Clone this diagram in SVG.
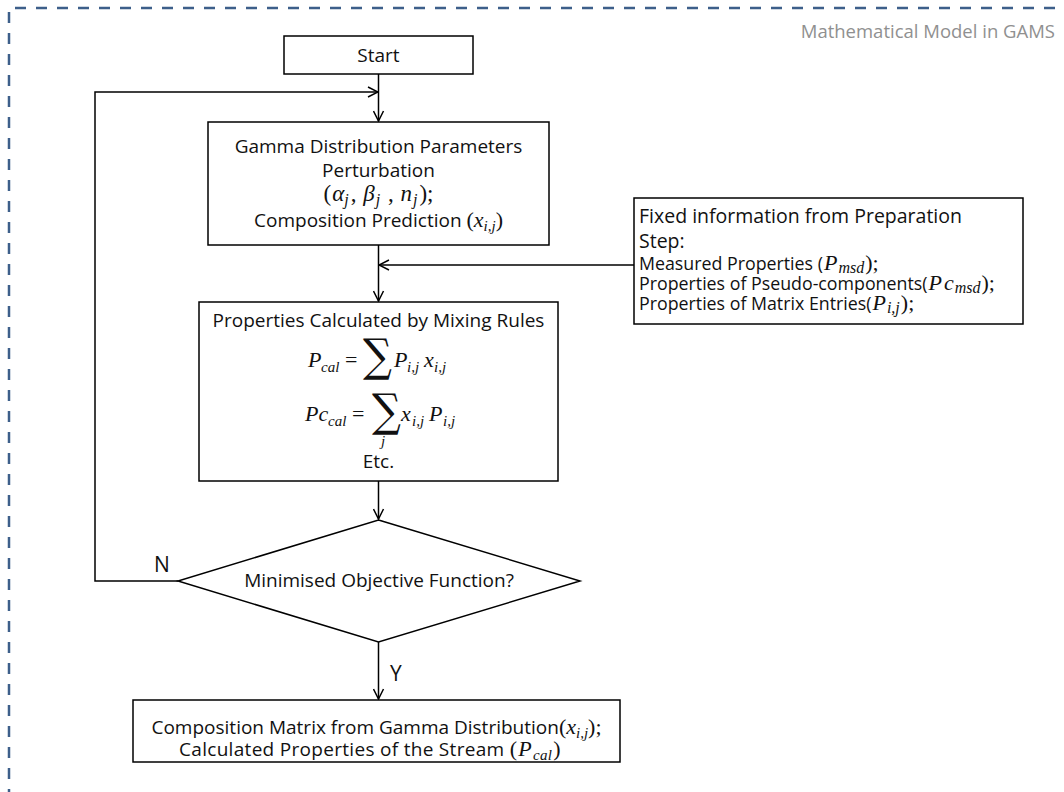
<svg xmlns="http://www.w3.org/2000/svg" width="1064" height="792" viewBox="0 0 1064 792">
  <defs>
    <style>
      .box { fill: #ffffff; stroke: #000000; stroke-width: 1.5; }
      .edge { fill: none; stroke: #000000; stroke-width: 1.5; }
      .frame { fill: none; stroke: #3d5f8a; stroke-width: 2.5; stroke-dasharray: 11 10; }
      .t { font-family: "Open Sans", "Liberation Sans", sans-serif; font-size: 19px; fill: #111111; }
      .tl { font-family: "Open Sans", "Liberation Sans", sans-serif; font-size: 19.5px; fill: #111111; }
      .ts { font-family: "Open Sans", "Liberation Sans", sans-serif; font-size: 17.8px; fill: #111111; }
      .title { font-family: "Open Sans", "Liberation Sans", sans-serif; font-size: 18.5px; fill: #909090; }
      .lbl { font-family: "Open Sans", "Liberation Sans", sans-serif; font-size: 21px; fill: #111111; }
      .m { font-family: "Liberation Serif", "DejaVu Serif", serif; font-style: italic; fill: #111111; }
      .mu { font-family: "Liberation Serif", "DejaVu Serif", serif; font-style: normal; fill: #111111; }
      .big { font-size: 22px; }
      .sub { font-size: 15px; }
      .fm { font-size: 22px; }
      .fs { font-size: 16px; }
      .sig { font-family: "DejaVu Serif", "Liberation Serif", serif; font-style: normal; font-size: 45px; fill: #111111; }
    </style>
    <marker id="arrow" viewBox="0 0 12 12" refX="11" refY="6" markerWidth="12" markerHeight="12" markerUnits="userSpaceOnUse" orient="auto">
      <path d="M1 1 L11 6 L1 11" fill="none" stroke="#000000" stroke-width="1.5"/>
    </marker>
  </defs>

  <rect width="1064" height="792" fill="#ffffff"/>

  <!-- dashed frame of the model region -->
  <path class="frame" d="M9 800 V8 H1070"/>
  <text class="title" x="1055" y="38" text-anchor="end">Mathematical Model in GAMS</text>

  <!-- connectors -->
  <g id="connectors">
    <path class="edge" d="M378.5 74 V121" marker-end="url(#arrow)"/>
    <path class="edge" d="M178 581 H95 V92 H378" marker-end="url(#arrow)"/>
    <path class="edge" d="M378.5 245 V301" marker-end="url(#arrow)"/>
    <path class="edge" d="M634 265 H379" marker-end="url(#arrow)"/>
    <path class="edge" d="M378.5 481 V519" marker-end="url(#arrow)"/>
    <path class="edge" d="M378.5 642 V699" marker-end="url(#arrow)"/>
    <text class="lbl" x="154" y="572">N</text>
    <text class="lbl" x="390" y="681">Y</text>
  </g>

  <g id="start">
    <rect class="box" x="284" y="36" width="189" height="38"/>
    <text class="t" x="378.5" y="62" text-anchor="middle">Start</text>
  </g>

  <g id="perturbation">
    <rect class="box" x="208" y="122" width="341" height="123"/>
    <text class="t" x="378.5" y="153" text-anchor="middle">Gamma Distribution Parameters</text>
    <text class="t" x="378.5" y="177" text-anchor="middle">Perturbation</text>
    <text class="t" x="378.5" y="201" text-anchor="middle"><tspan class="mu" font-size="23">(</tspan><tspan class="m" font-size="23" dx="1">α</tspan><tspan class="m" font-size="16" dy="4">j</tspan><tspan class="mu" font-size="23" dy="-4" dx="2">, </tspan><tspan class="m" font-size="23" dx="1">β</tspan><tspan class="m" font-size="16" dy="4" dx="1">j</tspan><tspan class="mu" font-size="23" dy="-4" dx="2"> , </tspan><tspan class="m" font-size="23" dx="1">n</tspan><tspan class="m" font-size="16" dy="4" dx="1">j</tspan><tspan class="mu" font-size="23" dy="-4" dx="2">);</tspan></text>
    <text class="t" x="378.5" y="227" text-anchor="middle">Composition Prediction <tspan class="mu big">(</tspan><tspan class="m big">x</tspan><tspan class="m sub" dy="4">i,j</tspan><tspan class="mu big" dy="-4">)</tspan></text>
  </g>

  <g id="fixed-info">
    <rect class="box" x="634" y="198" width="389" height="126"/>
    <text class="tl" x="639" y="223">Fixed information from Preparation</text>
    <text class="tl" x="639" y="248">Step:</text>
    <text class="ts" x="639" y="270">Measured Properties (<tspan class="m fm" dx="1">P</tspan><tspan class="m fs" dy="3" dx="1">msd</tspan><tspan class="mu fm" dy="-3" dx="1">);</tspan></text>
    <text class="ts" x="639" y="290">Properties of Pseudo-components(<tspan class="m fm" dx="1">P</tspan><tspan class="m fm" dx="2">c</tspan><tspan class="m fs" dy="3" dx="1">msd</tspan><tspan class="mu fm" dy="-3" dx="1">);</tspan></text>
    <text class="ts" x="639" y="310">Properties of Matrix Entries(<tspan class="m fm" dx="1">P</tspan><tspan class="m fs" dy="3" dx="1">i,j</tspan><tspan class="mu fm" dy="-3" dx="1">);</tspan></text>
  </g>

  <g id="mixing-rules">
    <rect class="box" x="199" y="302" width="359" height="179"/>
    <text class="t" x="378.5" y="327" text-anchor="middle">Properties Calculated by Mixing Rules</text>
    <!-- P_cal = sum P_ij x_ij -->
    <text class="m big" x="308" y="367">P</text>
    <text class="m sub" x="321" y="372">cal</text>
    <text class="mu big" x="345" y="367">=</text>
    <text class="sig" x="363" y="371" transform="translate(363 0) scale(0.9 1) translate(-363 0)">∑</text>
    <text class="m big" x="394" y="367">P</text>
    <text class="m sub" x="407" y="372">i,j</text>
    <text class="m big" x="424" y="367">x</text>
    <text class="m sub" x="434" y="372">i,j</text>
    <!-- Pc_cal = sum_j x_ij P_ij -->
    <text class="m big" x="305" y="421">Pc</text>
    <text class="m sub" x="328" y="426">cal</text>
    <text class="mu big" x="352" y="421">=</text>
    <text class="sig" x="372" y="426" transform="translate(372 0) scale(0.9 1) translate(-372 0)">∑</text>
    <text class="m sub" x="381" y="446">j</text>
    <text class="m big" x="401" y="421">x</text>
    <text class="m sub" x="412" y="426">i,j</text>
    <text class="m big" x="429" y="421">P</text>
    <text class="m sub" x="443" y="426">i,j</text>
    <text class="t" x="378.5" y="468" text-anchor="middle">Etc.</text>
  </g>

  <g id="decision">
    <polygon class="box" points="378.5,520 580,581 378.5,642 178,581"/>
    <text class="t" x="379" y="587" text-anchor="middle">Minimised Objective Function?</text>
  </g>

  <g id="result">
    <rect class="box" x="133" y="700" width="487" height="62"/>
    <text class="t" x="376.5" y="734" text-anchor="middle">Composition Matrix from Gamma Distribution<tspan class="mu big">(</tspan><tspan class="m big">x</tspan><tspan class="m sub" dy="4">i,j</tspan><tspan class="mu big" dy="-4">);</tspan></text>
    <text class="t" x="370" y="756" text-anchor="middle" letter-spacing="0.3">Calculated Properties of the Stream <tspan class="mu big">(</tspan><tspan class="m big" dx="1">P</tspan><tspan class="m sub" dy="4" dx="1">cal</tspan><tspan class="mu big" dy="-4" dx="1">)</tspan></text>
  </g>
</svg>
